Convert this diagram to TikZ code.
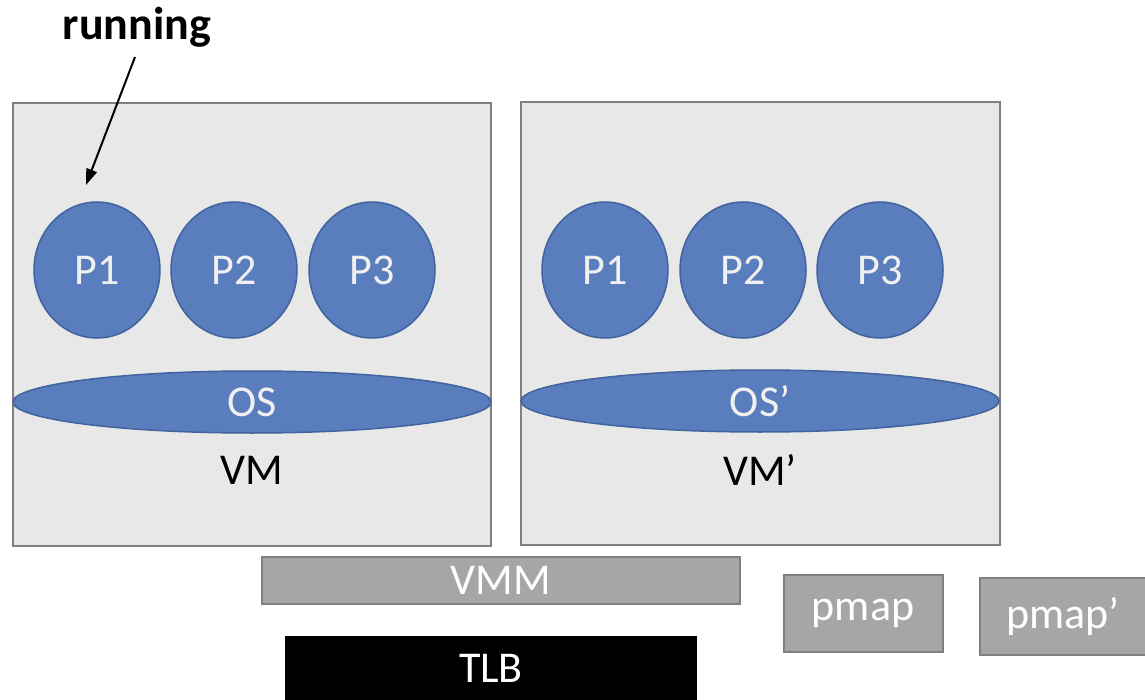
\documentclass[tikz,border=0pt]{standalone}
\usepackage{fontspec}
\setmainfont{Carlito}
\usetikzlibrary{shapes.geometric,arrows.meta}
\definecolor{vmfill}{HTML}{E8E8E8}
\definecolor{vmline}{HTML}{808080}
\definecolor{pfill}{HTML}{5A7EBD}
\definecolor{pline}{HTML}{41639E}
\definecolor{ptext}{HTML}{F0F0F0}
\definecolor{gfill}{HTML}{A6A6A6}
\tikzset{
  vmbox/.style={draw=vmline,fill=vmfill,line width=2pt},
  proc/.style={ellipse,draw=pline,fill=pfill,line width=1.5pt,inner sep=0pt,
    minimum width=126pt,minimum height=136pt,text=ptext,font=\fontsize{44}{52}\selectfont},
  osell/.style={ellipse,draw=pline,fill=pfill,line width=1.5pt,inner sep=0pt,
    minimum width=478pt,minimum height=62pt,text=ptext,font=\fontsize{44}{52}\selectfont},
  lbl/.style={inner sep=0pt,font=\fontsize{44}{52}\selectfont},
  graybox/.style={draw=vmline,fill=gfill,line width=2pt,inner sep=0pt,text=white,
    font=\fontsize{44}{52}\selectfont},
}
\begin{document}
\begin{tikzpicture}[x=1pt,y=-1pt]
\useasboundingbox (0,0) rectangle (1145,700);
% VM boxes
\draw[vmbox] (13,103) rectangle (491,546);
\draw[vmbox] (521,102) rectangle (1000,545);
% processes
\node[proc] (p1) at (97,270) {P1};
\node[proc] (p2) at (234,270) {P2};
\node[proc] (p3) at (372,270) {P3};
\node[proc] (q1) at (605,270) {P1};
\node[proc] (q2) at (743,270) {P2};
\node[proc] (q3) at (880,270) {P3};
% OS
\node[osell] (os) at (252,402) {OS};
\node[osell] (os2) at (760,401) {OS’};
% labels
\node[lbl] (vm) at (252,470) {VM};
\node[lbl] (vm2) at (760,470) {VM’};
% running
\node[inner sep=0pt,font=\bfseries\fontsize{46}{54}\selectfont] (run) at (137,27) {running};
\coordinate (as) at (135,57);
\coordinate (ae) at (86,185);
\draw[line width=2pt,-{Triangle[length=16pt,width=11pt]}] (as) -- (ae);
% VMM
\node[graybox,minimum width=478pt,minimum height=47pt] (vmm) at (501,580.5) {VMM};
\node[graybox,minimum width=159pt,minimum height=77pt] (pmap) at (863,613) {pmap};
\node[graybox,minimum width=166pt,minimum height=77pt] (pmap2) at (1063,616.5) {pmap’};
% TLB
\node[fill=black,inner sep=0pt,minimum width=412pt,minimum height=64pt,text=white,
  font=\fontsize{44}{52}\selectfont] (tlb) at (491,668) {TLB};
\end{tikzpicture}
\end{document}
